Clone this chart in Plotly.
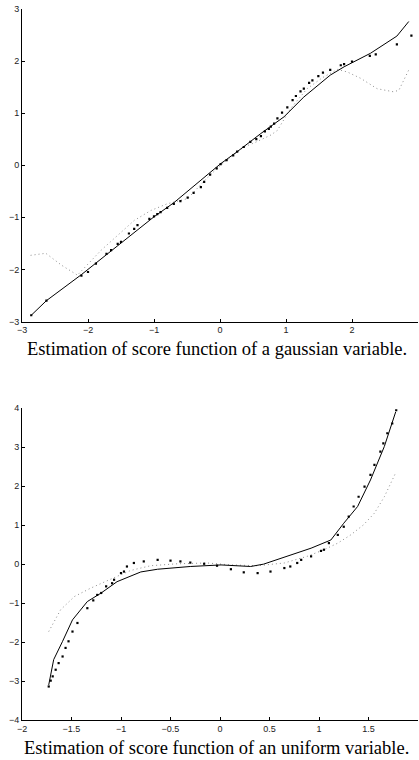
import plotly.graph_objects as go

# ---------------- Gaussian variable (top panel) ----------------
g_solid_x = [-2.86, -2.63, -2.1, -1.5, -1.0, -0.7, -0.22, 0.01, 0.26, 0.62, 0.97, 1.27, 1.67, 1.88, 2.28, 2.68, 2.86]
g_solid_y = [-2.88, -2.6, -2.1, -1.5, -0.99, -0.72, -0.22, 0.03, 0.26, 0.61, 0.93, 1.31, 1.73, 1.89, 2.15, 2.48, 2.76]

g_pts_x = [-2.86, -2.63, -2.1, -2.0, -1.88, -1.72, -1.65, -1.55, -1.5, -1.38, -1.3, -1.25,
           -1.07, -1.0, -0.95, -0.9, -0.8, -0.7, -0.6, -0.49, -0.4, -0.29, -0.24, -0.15,
           -0.05, 0.01, 0.1, 0.2, 0.26, 0.36, 0.46, 0.55, 0.62, 0.68, 0.74, 0.77, 0.82,
           0.87, 0.94, 1.02, 1.1, 1.15, 1.22, 1.27, 1.35, 1.4, 1.49, 1.56, 1.67, 1.83,
           1.88, 2.0, 2.27, 2.36, 2.68, 2.9]
g_pts_y = [-2.88, -2.6, -2.12, -2.05, -1.89, -1.7, -1.63, -1.51, -1.47, -1.31, -1.22, -1.15,
           -1.03, -0.98, -0.94, -0.9, -0.82, -0.74, -0.69, -0.62, -0.53, -0.42, -0.32, -0.18,
           -0.06, 0.02, 0.1, 0.19, 0.26, 0.35, 0.45, 0.5, 0.56, 0.65, 0.7, 0.74, 0.8,
           0.9, 1.01, 1.11, 1.25, 1.33, 1.42, 1.47, 1.58, 1.63, 1.71, 1.78, 1.83, 1.92,
           1.94, 1.99, 2.1, 2.13, 2.32, 2.49]

g_dot_x = [-2.87, -2.64, -2.4, -2.16, -1.8, -1.55, -1.3, -1.05, -0.8, -0.49, -0.2, 0.0, 0.2,
           0.36, 0.52, 0.77, 0.87, 0.97, 1.07, 1.32, 1.55, 1.78, 1.93, 2.13, 2.38, 2.63, 2.71, 2.86]
g_dot_y = [-1.73, -1.69, -1.92, -2.11, -1.63, -1.35, -1.06, -0.87, -0.74, -0.64, -0.25, -0.01, 0.2,
           0.35, 0.43, 0.58, 0.67, 0.87, 1.09, 1.47, 1.68, 1.84, 1.79, 1.67, 1.47, 1.41, 1.44, 1.83]

# ---------------- Uniform variable (bottom panel) ----------------
u_solid_x = [-1.73, -1.68, -1.59, -1.49, -1.34, -1.2, -1.04, -0.8, -0.63, -0.3, 0.01, 0.31,
             0.44, 0.71, 0.92, 1.12, 1.25, 1.39, 1.52, 1.66, 1.775]
u_solid_y = [-3.1, -2.45, -1.98, -1.43, -0.96, -0.74, -0.45, -0.2, -0.13, -0.06, -0.02, -0.06,
             0.0, 0.24, 0.41, 0.62, 1.05, 1.48, 2.16, 3.02, 3.91]

u_pts_x = [-1.73, -1.71, -1.69, -1.66, -1.63, -1.59, -1.56, -1.53, -1.49, -1.44, -1.34, -1.28,
           -1.24, -1.2, -1.15, -1.09, -1.07, -1.0, -0.97, -0.94, -0.87, -0.77, -0.63, -0.5,
           -0.4, -0.3, -0.16, -0.03, 0.11, 0.24, 0.38, 0.51, 0.65, 0.71, 0.78, 0.82, 0.92,
           1.02, 1.05, 1.1, 1.19, 1.25, 1.3, 1.35, 1.4, 1.46, 1.52, 1.56, 1.62, 1.65, 1.69,
           1.74, 1.78]
u_pts_y = [-3.14, -2.99, -2.88, -2.71, -2.54, -2.37, -2.15, -1.98, -1.73, -1.51, -1.13, -0.93,
           -0.79, -0.74, -0.57, -0.49, -0.4, -0.23, -0.19, -0.06, 0.03, 0.07, 0.11, 0.09,
           0.07, 0.04, 0.01, -0.04, -0.13, -0.21, -0.23, -0.19, -0.1, -0.06, 0.03, 0.11, 0.2,
           0.34, 0.37, 0.54, 0.75, 0.96, 1.22, 1.48, 1.73, 1.99, 2.29, 2.55, 2.89, 3.1, 3.36,
           3.61, 3.95]

u_dot_x = [-1.73, -1.61, -1.47, -1.31, -1.1, -0.9, -0.7, -0.43, -0.13, 0.11, 0.38, 0.65,
           0.88, 1.05, 1.19, 1.32, 1.45, 1.56, 1.66, 1.77]
u_dot_y = [-1.73, -1.17, -0.83, -0.62, -0.38, -0.16, -0.04, 0.01, 0.03, -0.02, -0.04, 0.03,
           0.2, 0.37, 0.54, 0.75, 1.01, 1.31, 1.73, 2.32]

g_ticks = [-3, -2, -1, 0, 1, 2, 3]
u_xticks = [-2, -1.5, -1, -0.5, 0, 0.5, 1, 1.5, 2]
u_yticks = [-4, -3, -2, -1, 0, 1, 2, 3, 4]

caption_top = "Estimation of score function of a gaussian variable."
caption_bottom = "Estimation of score function of an uniform variable."

W, H = 419, 760
fig = go.Figure()

def add_panel(xs, ys, px, py, dx, dy, xa, ya):
    fig.add_trace(go.Scatter(x=dx, y=dy, mode="lines", xaxis=xa, yaxis=ya,
                             line=dict(color="#8c8c8c", width=1, dash="1px,3px"),
                             showlegend=False, hoverinfo="skip"))
    fig.add_trace(go.Scatter(x=xs, y=ys, mode="lines", xaxis=xa, yaxis=ya,
                             line=dict(color="black", width=1),
                             showlegend=False, hoverinfo="skip"))
    fig.add_trace(go.Scatter(x=px, y=py, mode="markers", xaxis=xa, yaxis=ya,
                             marker=dict(color="black", size=2.2, symbol="square",
                                         line=dict(width=0)),
                             showlegend=False, hoverinfo="skip"))

add_panel(g_solid_x, g_solid_y, g_pts_x, g_pts_y, g_dot_x, g_dot_y, "x", "y")
add_panel(u_solid_x, u_solid_y, u_pts_x, u_pts_y, u_dot_x, u_dot_y, "x2", "y2")

tickfont = dict(family="Liberation Sans, Arial, sans-serif", size=9, color="#222")
common = dict(showline=True, linecolor="black", linewidth=1, ticks="inside",
              ticklen=3, tickwidth=1, tickcolor="black", showgrid=False,
              zeroline=False, tickfont=tickfont, mirror=False, automargin=False)

x0, x1 = 22 / W, 418 / W
fig.update_layout(
    template="none",
    width=W, height=H,
    margin=dict(l=0, r=0, t=0, b=0, autoexpand=False),
    paper_bgcolor="white", plot_bgcolor="white",
    xaxis=dict(domain=[x0, x1], range=[-3, 3], tickvals=g_ticks, anchor="y", **common),
    yaxis=dict(domain=[1 - 321.5 / H, 1 - 9 / H], range=[-3, 3], tickvals=g_ticks, anchor="x", **common),
    xaxis2=dict(domain=[x0, x1], range=[-2, 2], tickvals=u_xticks, anchor="y2", **common),
    yaxis2=dict(domain=[1 - 720 / H, 1 - 408.3 / H], range=[-4, 4], tickvals=u_yticks, anchor="x2", **common),
)

capfont = dict(family="Liberation Serif, Times New Roman, serif", size=18.5, color="black")
fig.add_annotation(text=caption_top, xref="paper", yref="paper", x=216.5 / W, y=1 - 349 / H,
                   xanchor="center", yanchor="middle", showarrow=False, font=capfont)
fig.add_annotation(text=caption_bottom, xref="paper", yref="paper", x=216.5 / W, y=1 - 748 / H,
                   xanchor="center", yanchor="middle", showarrow=False, font=capfont)

fig.write_html("out.html", config={"displayModeBar": False},
               post_script="document.body.style.margin='0';document.body.style.overflow='hidden';")
